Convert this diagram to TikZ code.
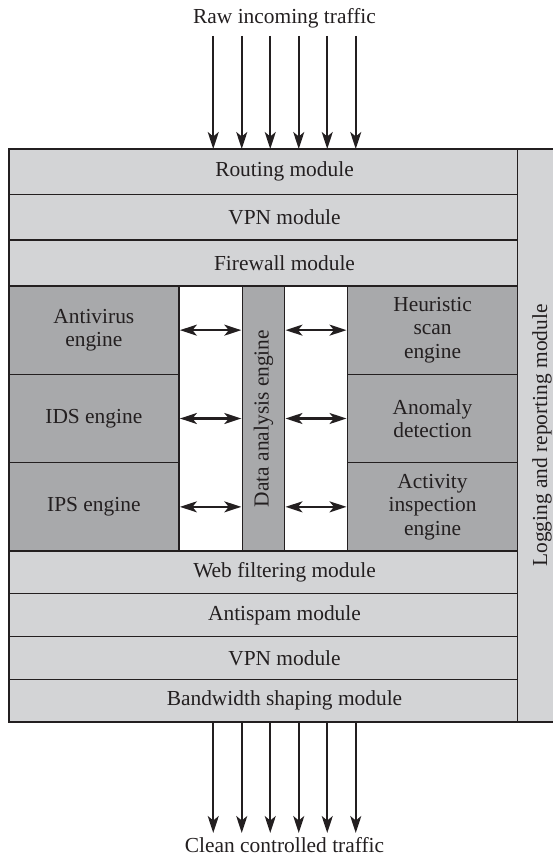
\documentclass[tikz,border=0pt]{standalone}
\usepackage{fontspec}
\setmainfont{Liberation Serif}
\usetikzlibrary{arrows.meta}
\definecolor{lightfill}{HTML}{D3D4D6}
\definecolor{darkfill}{HTML}{A8A9AB}
\definecolor{ink}{HTML}{231F20}
\begin{document}
\begin{tikzpicture}[x=1pt,y=-1pt,
  txt/.style={text=ink, font=\fontsize{21.4}{23.6}\selectfont, align=center, inner sep=0pt},
  lbox/.style={txt, draw=ink, line width=1.4pt, fill=lightfill, anchor=north west, outer sep=0pt},
  dbox/.style={lbox, fill=darkfill},
  tip/.tip={Stealth[length=17pt,width=11pt,inset=4.5pt]},
  flow/.style={draw=ink, line width=2.1pt, -tip},
  both/.style={draw=ink, line width=2.1pt, tip-tip}]
\useasboundingbox (0,0) rectangle (552,856);

% logging column (extends past right edge)
\node[lbox, minimum width=50pt, minimum height=573pt] (logB) at (517.6,149) {};
\node[txt, rotate=90, anchor=base] (logT) at (547,435.5) {Logging and reporting module};

% upper modules
\node[lbox, minimum width=508.8pt, minimum height=45.3pt] (routingB) at (8.8,149) {};
\node[lbox, minimum width=508.8pt, minimum height=45.7pt] (vpnAB) at (8.8,194.3) {};
\node[lbox, minimum width=508.8pt, minimum height=46pt] (fwB) at (8.8,240) {};
\node[txt] (routingT) at (284.5,171.7) {Routing module};
\node[txt] (vpnAT) at (284.5,217.2) {VPN module};
\node[txt] (fwT) at (284.5,263) {Firewall module};

% engines
\node[dbox, minimum width=170.1pt, minimum height=88.3pt] (avB) at (8.8,286) {Antivirus\\engine};
\node[dbox, minimum width=170.1pt, minimum height=88.4pt] (idsB) at (8.8,374.3) {IDS engine};
\node[dbox, minimum width=170.1pt, minimum height=88.3pt] (ipsB) at (8.8,462.7) {IPS engine};
\node[dbox, minimum width=42.2pt, minimum height=265pt] (dataB) at (242.3,286) {};
\node[txt, rotate=90] (dataT) at (dataB.center) {Data analysis engine};
\node[dbox, minimum width=170.1pt, minimum height=88.3pt] (heurB) at (347.5,286) {Heuristic\\scan\\engine};
\node[dbox, minimum width=170.1pt, minimum height=88.4pt] (anomB) at (347.5,374.3) {Anomaly\\detection};
\node[dbox, minimum width=170.1pt, minimum height=88.3pt] (actB) at (347.5,462.7) {Activity\\inspection\\engine};

% lower modules
\node[lbox, minimum width=508.8pt, minimum height=42.3pt] (webB) at (8.8,551) {};
\node[lbox, minimum width=508.8pt, minimum height=43.4pt] (spamB) at (8.8,593.3) {};
\node[lbox, minimum width=508.8pt, minimum height=42.6pt] (vpnBB) at (8.8,636.7) {};
\node[lbox, minimum width=508.8pt, minimum height=42.7pt] (bwB) at (8.8,679.3) {};
\node[txt] (webT) at (284.5,572.2) {Web filtering module};
\node[txt] (spamT) at (284.5,615) {Antispam module};
\node[txt] (vpnBT) at (284.5,658) {VPN module};
\node[txt] (bwT) at (284.5,700.7) {Bandwidth shaping module};

% engine <-> data analysis
\foreach \e in {avB,idsB,ipsB}
  \draw[both, shorten <=1pt, shorten >=1pt] (\e.east) -- (dataB.west |- \e.east);
\foreach \e in {heurB,anomB,actB}
  \draw[both, shorten <=1pt, shorten >=1pt] (dataB.east |- \e.west) -- (\e.west);

% traffic in / out
\node[txt, anchor=base] (rawT) at (284.5,24) {Raw incoming traffic};
\node[txt, anchor=base] (cleanT) at (284.5,852) {Clean controlled traffic};
\foreach \i in {0,...,5} {
  \coordinate (in\i) at ({213.25+28.5*\i},36);
  \coordinate (out\i) at ({213.25+28.5*\i},833);
  \draw[flow] (in\i) -- (in\i |- routingB.north);
  \draw[flow] (out\i |- bwB.south) -- (out\i);
}
\end{tikzpicture}
\end{document}
